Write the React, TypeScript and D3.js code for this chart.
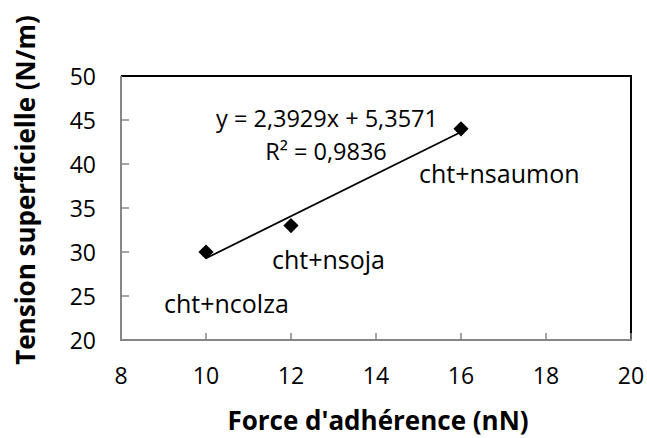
import React from "react";
import * as d3 from "d3";

const xValues = [10, 12, 16];
const yValues = [30, 33, 44];
const pointLabels = ["cht+ncolza", "cht+nsoja", "cht+nsaumon"];
const xTicks = [8, 10, 12, 14, 16, 18, 20];
const yTicks = [20, 25, 30, 35, 40, 45, 50];
const slope = 2.3929;
const intercept = 5.3571;
const equationText = "y = 2,3929x + 5,3571";
const r2Text = "R² = 0,9836";

const W = 647;
const H = 438;
const plot = { left: 121, right: 631, top: 76, bottom: 340 };
const font = "'Open Sans', sans-serif";

// label offsets relative to their point
const labelOffsets = [
  { dx: -42, dy: 51 },
  { dx: -19, dy: 33 },
  { dx: -42, dy: 44 },
];

export default function App() {
  const x = d3.scaleLinear().domain([8, 20]).range([plot.left, plot.right]);
  const y = d3.scaleLinear().domain([20, 50]).range([plot.bottom, plot.top]);

  const points = xValues.map((v, i) => ({ x: v, y: yValues[i], label: pointLabels[i] }));
  const xMin = d3.min(xValues) as number;
  const xMax = d3.max(xValues) as number;
  const trend = d3
    .line<number>()
    .x(d => x(d))
    .y(d => y(slope * d + intercept))([xMin, xMax]);

  const diamond = d3.symbol().type(d3.symbolSquare).size(115)();

  return (
    <svg width={W} height={H} style={{ position: "absolute", left: 0, top: 0, background: "#fff" }}>
      {/* top + right border */}
      <path
        d={`M${plot.left},${plot.top}H${plot.right}V${plot.bottom}`}
        fill="none"
        stroke="#000"
        strokeWidth={2}
      />
      {/* y axis */}
      <line x1={plot.left} x2={plot.left} y1={plot.top} y2={plot.bottom + 1} stroke="#868686" strokeWidth={2} />
      {yTicks.map(t => (
        <g key={"y" + t}>
          {t !== 20 && t !== 50 && (
            <line x1={plot.left} x2={plot.left + 8} y1={y(t)} y2={y(t)} stroke="#868686" strokeWidth={1.5} />
          )}
          <text
            x={plot.left - 25}
            y={y(t)}
            textAnchor="end"
            dominantBaseline="central"
            fontFamily={font}
            fontSize={23}
            fill="#000"
          >
            {t}
          </text>
        </g>
      ))}
      {/* x axis */}
      <line x1={plot.left - 1} x2={plot.right + 1} y1={plot.bottom} y2={plot.bottom} stroke="#868686" strokeWidth={2} />
      {xTicks.map(t => (
        <g key={"x" + t}>
          {t !== 8 && (
            <line x1={x(t)} x2={x(t)} y1={plot.bottom} y2={plot.bottom - 7} stroke="#868686" strokeWidth={1.5} />
          )}
          <text
            x={x(t)}
            y={plot.bottom + 35}
            textAnchor="middle"
            dominantBaseline="central"
            fontFamily={font}
            fontSize={23}
            fill="#000"
          >
            {t}
          </text>
        </g>
      ))}
      {/* trendline */}
      <path d={trend ?? ""} fill="none" stroke="#000" strokeWidth={1.75} />
      {/* markers */}
      {points.map(p => (
        <path
          key={p.label}
          d={diamond ?? ""}
          transform={`translate(${x(p.x)},${y(p.y)}) rotate(45)`}
          fill="#000"
        />
      ))}
      {/* point labels */}
      {points.map((p, i) => (
        <text
          key={"l" + p.label}
          x={x(p.x) + labelOffsets[i].dx}
          y={y(p.y) + labelOffsets[i].dy}
          textAnchor="start"
          dominantBaseline="central"
          fontFamily={font}
          fontSize={25}
          fill="#000"
        >
          {p.label}
        </text>
      ))}
      {/* equation */}
      <text x={327} y={118} textAnchor="middle" dominantBaseline="central" fontFamily={font} fontSize={23.5}>
        {equationText}
      </text>
      <text x={326} y={151} textAnchor="middle" dominantBaseline="central" fontFamily={font} fontSize={23.5}>
        {r2Text}
      </text>
      {/* axis titles */}
      <text
        x={378}
        y={420}
        textAnchor="middle"
        dominantBaseline="central"
        fontFamily={font}
        fontWeight="bold"
        fontSize={26}
      >
        Force d'adhérence (nN)
      </text>
      <text
        transform={`translate(25,190) rotate(-90)`}
        textAnchor="middle"
        dominantBaseline="central"
        fontFamily={font}
        fontWeight="bold"
        fontSize={26}
      >
        Tension superficielle (N/m)
      </text>
    </svg>
  );
}
